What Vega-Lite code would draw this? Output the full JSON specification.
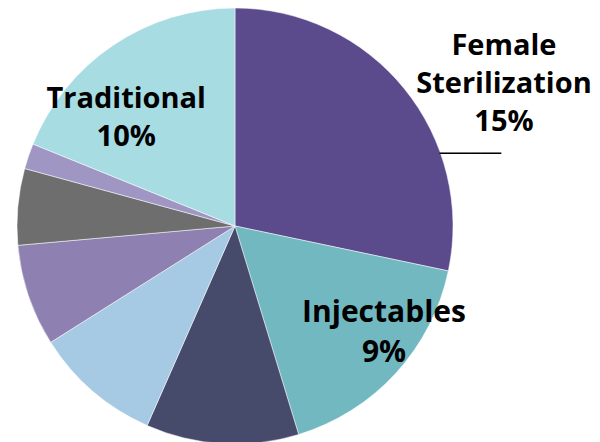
{
  "$schema": "https://vega.github.io/schema/vega-lite/v6.json",
  "width": 470,
  "height": 452,
  "autosize": "none",
  "padding": {"left": 0, "top": 0, "right": 130, "bottom": 0},
  "background": "white",
  "view": {"stroke": null},
  "data": {
    "values": [
      {"idx": 1, "method": "Female Sterilization", "pct": 15, "label": "Female\nSterilization\n15%"},
      {"idx": 2, "method": "Injectables", "pct": 9, "label": "Injectables\n9%"},
      {"idx": 3, "method": "Pill", "pct": 6, "label": ""},
      {"idx": 4, "method": "Male Condom", "pct": 5, "label": ""},
      {"idx": 5, "method": "IUD", "pct": 4, "label": ""},
      {"idx": 6, "method": "Implants", "pct": 3, "label": ""},
      {"idx": 7, "method": "Other Modern", "pct": 1, "label": ""},
      {"idx": 8, "method": "Traditional", "pct": 10, "label": "Traditional\n10%"}
    ]
  },
  "encoding": {
    "theta": {"field": "pct", "type": "quantitative", "stack": true},
    "order": {"field": "idx", "type": "quantitative"}
  },
  "layer": [
    {
      "mark": {"type": "arc", "outerRadius": 218, "stroke": "white", "strokeWidth": 0.5},
      "encoding": {
        "color": {
          "field": "method",
          "type": "nominal",
          "scale": {
            "domain": ["Female Sterilization", "Injectables", "Pill", "Male Condom", "IUD", "Implants", "Other Modern", "Traditional"],
            "range": ["#5B4A8C", "#72B8C0", "#464B6B", "#A6CAE3", "#8E80B0", "#6E6E6E", "#A096C4", "#A8DCE3"]
          },
          "legend": null
        }
      }
    },
    {
      "mark": {"type": "text", "radius": 300, "dx": 36, "dy": 9, "font": "Open Sans", "fontWeight": "bold", "fontSize": 29, "lineBreak": "\n", "lineHeight": 38, "align": "center", "baseline": "middle", "color": "black"},
      "encoding": {
        "text": {"condition": {"test": "datum.method === 'Female Sterilization'", "field": "label"}, "value": ""}
      }
    },
    {
      "mark": {"type": "text", "radius": 218, "dx": 66, "dy": 65, "font": "DejaVu Sans", "fontSize": 17, "align": "center", "baseline": "middle", "color": "black"},
      "encoding": {
        "text": {"condition": {"test": "datum.method === 'Female Sterilization'", "value": "──────"}, "value": ""}
      }
    },
    {
      "mark": {"type": "text", "radius": 183, "dx": 14, "dy": -37, "font": "Open Sans", "fontWeight": "bold", "fontSize": 30, "lineBreak": "\n", "lineHeight": 40, "align": "center", "baseline": "middle", "color": "black"},
      "encoding": {
        "text": {"condition": {"test": "datum.method === 'Injectables'", "field": "label"}, "value": ""}
      }
    },
    {
      "mark": {"type": "text", "radius": 150, "dx": -25, "dy": -3, "font": "Open Sans", "fontWeight": "bold", "fontSize": 29, "lineBreak": "\n", "lineHeight": 38, "align": "center", "baseline": "middle", "color": "black"},
      "encoding": {
        "text": {"condition": {"test": "datum.method === 'Traditional'", "field": "label"}, "value": ""}
      }
    }
  ]
}
